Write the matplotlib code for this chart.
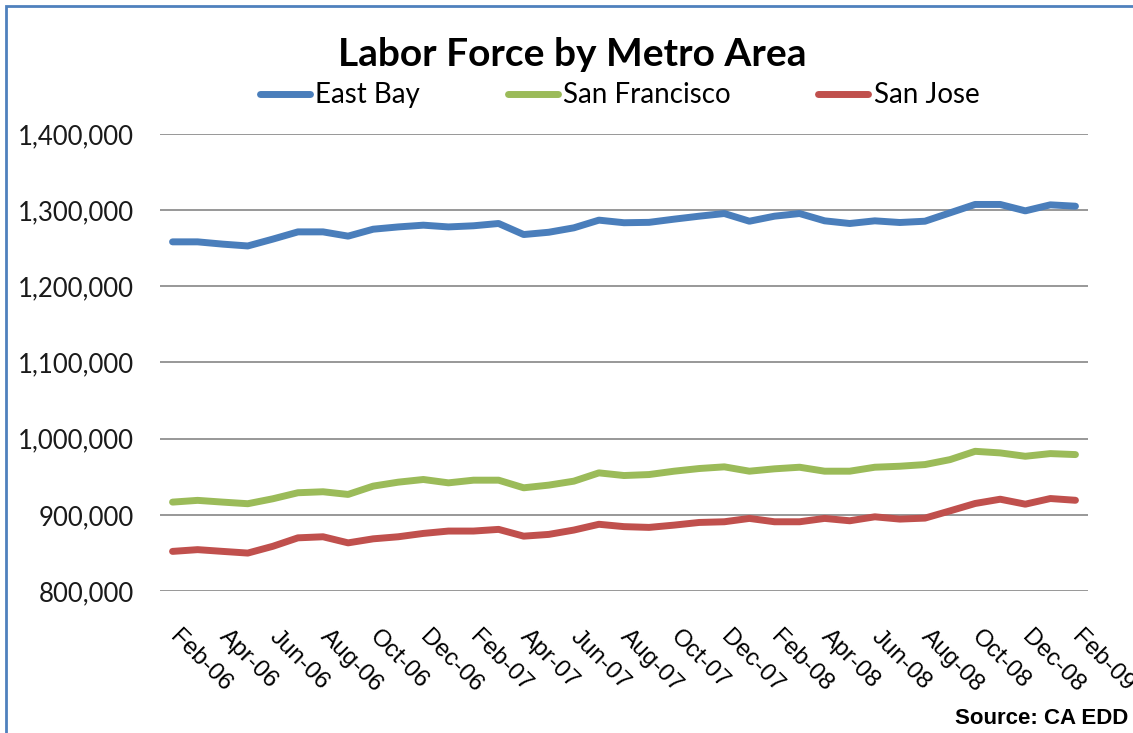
import numpy as np
import matplotlib
matplotlib.use('Agg')
import matplotlib.pyplot as plt
import matplotlib.patches as patches
import matplotlib.transforms as transforms
from matplotlib.ticker import FuncFormatter

# ---[DATA]---
east_bay = [1258400, 1258400, 1255400, 1253000, 1262000, 1271500, 1271500, 1265900,
            1275000, 1278000, 1280300, 1278000, 1279500, 1282500, 1268000, 1271000,
            1276800, 1286900, 1283500, 1284000, 1288200, 1292100, 1295600, 1285500,
            1292100, 1295600, 1286000, 1282500, 1286000, 1283800, 1285500, 1296500,
            1307500, 1307500, 1299100, 1307000, 1305200]
san_francisco = [916700, 919000, 916700, 914600, 921100, 929000, 930300, 926800,
                 937700, 942900, 946400, 942000, 945500, 945500, 935500, 939000,
                 944200, 955100, 951600, 952900, 957300, 960800, 963000, 957300,
                 960400, 962500, 957300, 957300, 962500, 963800, 966000, 972500,
                 983400, 981300, 976900, 980400, 979100]
san_jose = [852000, 854300, 852000, 849800, 858700, 869800, 871200, 863200,
            868500, 871200, 875600, 878700, 878700, 880900, 872000, 874300,
            880000, 887600, 884500, 883500, 886500, 890000, 890900, 895300,
            890900, 890900, 895300, 892200, 897400, 894400, 895700, 905200,
            914900, 920500, 914000, 921400, 919100]
tick_labels = ['Feb-06', 'Apr-06', 'Jun-06', 'Aug-06', 'Oct-06', 'Dec-06',
               'Feb-07', 'Apr-07', 'Jun-07', 'Aug-07', 'Oct-07', 'Dec-07',
               'Feb-08', 'Apr-08', 'Jun-08', 'Aug-08', 'Oct-08', 'Dec-08', 'Feb-09']
y_ticks = [800000, 900000, 1000000, 1100000, 1200000, 1300000, 1400000]
series_names = ['East Bay', 'San Francisco', 'San Jose']
colors = ['#4A7EBB', '#9BBB59', '#C0504D']
# ------------

fig = plt.figure(figsize=(11.33, 7.33), dpi=100)
ax = fig.add_axes([160 / 1133, 1 - 591 / 733, 928 / 1133, 457 / 733])

x = np.arange(len(east_bay))
for vals, name, c in zip([east_bay, san_francisco, san_jose], series_names, colors):
    ax.plot(x, vals, color=c, lw=5, label=name,
            solid_capstyle='round', solid_joinstyle='round')

ax.set_xlim(-0.5, len(east_bay) - 0.5)
ax.set_ylim(y_ticks[0], y_ticks[-1])
ax.set_yticks(y_ticks)
ax.yaxis.set_major_formatter(FuncFormatter(lambda v, p: '{:,.0f}'.format(v)))
ax.grid(axis='y', color='#868686', lw=1.2)
ax.set_axisbelow(True)
for s in ax.spines.values():
    s.set_visible(False)
ax.tick_params(axis='both', length=0)
ax.tick_params(axis='y', pad=19, labelsize=18.5, labelcolor='#1a1a1a')
for lbl in ax.get_yticklabels():
    lbl.set_family('Lato')

ax.set_xticks(x[::2])
ax.set_xticklabels(tick_labels, rotation=-45, ha='left', va='top',
                   rotation_mode='anchor', family='Liberation Sans', fontsize=17.5)
ax.tick_params(axis='x', pad=25)
shift = transforms.ScaledTranslation(8 / 100, 0, fig.dpi_scale_trans)
for lbl in ax.get_xticklabels():
    lbl.set_transform(lbl.get_transform() + shift)

fig.text(0.505, 0.925, 'Labor Force by Metro Area', ha='center', va='center',
         family='Lato', weight='bold', fontsize=28)
fig.legend(loc='center', bbox_to_anchor=(0.547, 0.870), ncol=3, frameon=False,
           prop={'family': 'Lato', 'size': 20}, handlelength=1.8,
           handletextpad=0.2, columnspacing=3.15)
fig.text(0.996, 0.02, 'Source: CA EDD', ha='right', va='center',
         family='Liberation Sans', weight='bold', fontsize=16)

# blue frame, only top and left edges fall inside the picture
border = patches.Rectangle((6 / 1133, -0.05), 1.2, 1 - 6 / 733 + 0.05,
                           transform=fig.transFigure, fill=False,
                           edgecolor='#4F81BD', lw=2)
fig.patches.append(border)

fig.savefig('out.png', dpi=100)
